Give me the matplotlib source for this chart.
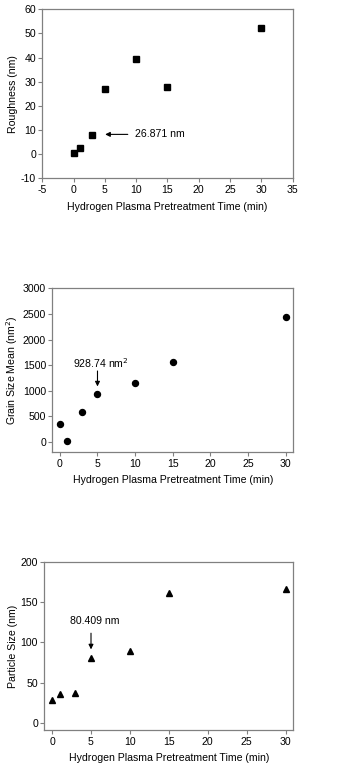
import matplotlib
matplotlib.use('Agg')
import matplotlib.pyplot as plt

plt.rcParams['font.family'] = ['Liberation Sans', 'DejaVu Sans']
plt.rcParams['axes.unicode_minus'] = False

time_min = [0, 1, 3, 5, 10, 15, 30]
roughness = [0.5, 2.5, 8.0, 27.0, 39.3, 27.8, 52.2]
grain_mean = [345, 15, 580, 930, 1160, 1555, 2430]
particle = [28, 36, 37.5, 81, 89, 162, 167]

XLABEL = 'Hydrogen Plasma Pretreatment Time (min)'
FS = 7.6
SPINE = '#808080'

fig = plt.figure(figsize=(3.37, 7.65), dpi=100)


def style(ax):
    for s in ax.spines.values():
        s.set_color(SPINE)
        s.set_linewidth(0.9)
    ax.tick_params(direction='out', length=3, width=0.8, color=SPINE,
                   labelsize=FS, pad=1.5, top=False, right=False)
    ax.set_xlabel(XLABEL, fontsize=FS, labelpad=5)


# ---- roughness ----
ax1 = fig.add_axes([0.1255, 0.7669, 0.743, 0.2209])
ax1.plot(time_min, roughness, 's', color='black', ms=4.2)
ax1.set_xlim(-5, 35); ax1.set_ylim(-10, 60)
ax1.set_xticks(range(-5, 36, 5)); ax1.set_yticks(range(-10, 61, 10))
ax1.set_ylabel('Roughness (nm)', fontsize=FS, labelpad=2)
ax1.annotate('', xy=(4.6, 8.2), xytext=(9.1, 8.2),
             arrowprops=dict(arrowstyle='-|>', color='black', lw=0.8, mutation_scale=7))
ax1.text(9.8, 8.2, '26.871 nm', fontsize=FS, va='center')
style(ax1)

# ---- grain size mean ----
ax2 = fig.add_axes([0.1552, 0.4088, 0.7151, 0.2144])
ax2.plot(time_min, grain_mean, 'o', color='black', ms=4.3)
ax2.set_xlim(-1, 31); ax2.set_ylim(-200, 3000)
ax2.set_xticks(range(0, 31, 5)); ax2.set_yticks(range(0, 3001, 500))
ax2.set_ylabel('Grain Size Mean (nm$^2$)', fontsize=FS, labelpad=2)
ax2.annotate('', xy=(5, 1030), xytext=(5, 1440),
             arrowprops=dict(arrowstyle='-|>', color='black', lw=0.8, mutation_scale=7))
ax2.text(5.5, 1530, '928.74 nm$^2$', fontsize=FS, ha='center', va='center')
style(ax2)

# ---- particle size ----
ax3 = fig.add_axes([0.1315, 0.0454, 0.7389, 0.220])
ax3.plot(time_min, particle, '^', color='black', ms=4.8)
ax3.set_xlim(-1, 31); ax3.set_ylim(-9, 200)
ax3.set_xticks(range(0, 31, 5)); ax3.set_yticks(range(0, 201, 50))
ax3.set_ylabel('Particle Size (nm)', fontsize=FS, labelpad=2)
ax3.annotate('', xy=(5, 88), xytext=(5, 115),
             arrowprops=dict(arrowstyle='-|>', color='black', lw=0.8, mutation_scale=7))
ax3.text(5.5, 127, '80.409 nm', fontsize=FS, ha='center', va='center')
style(ax3)

fig.savefig('out.png', dpi=100)
